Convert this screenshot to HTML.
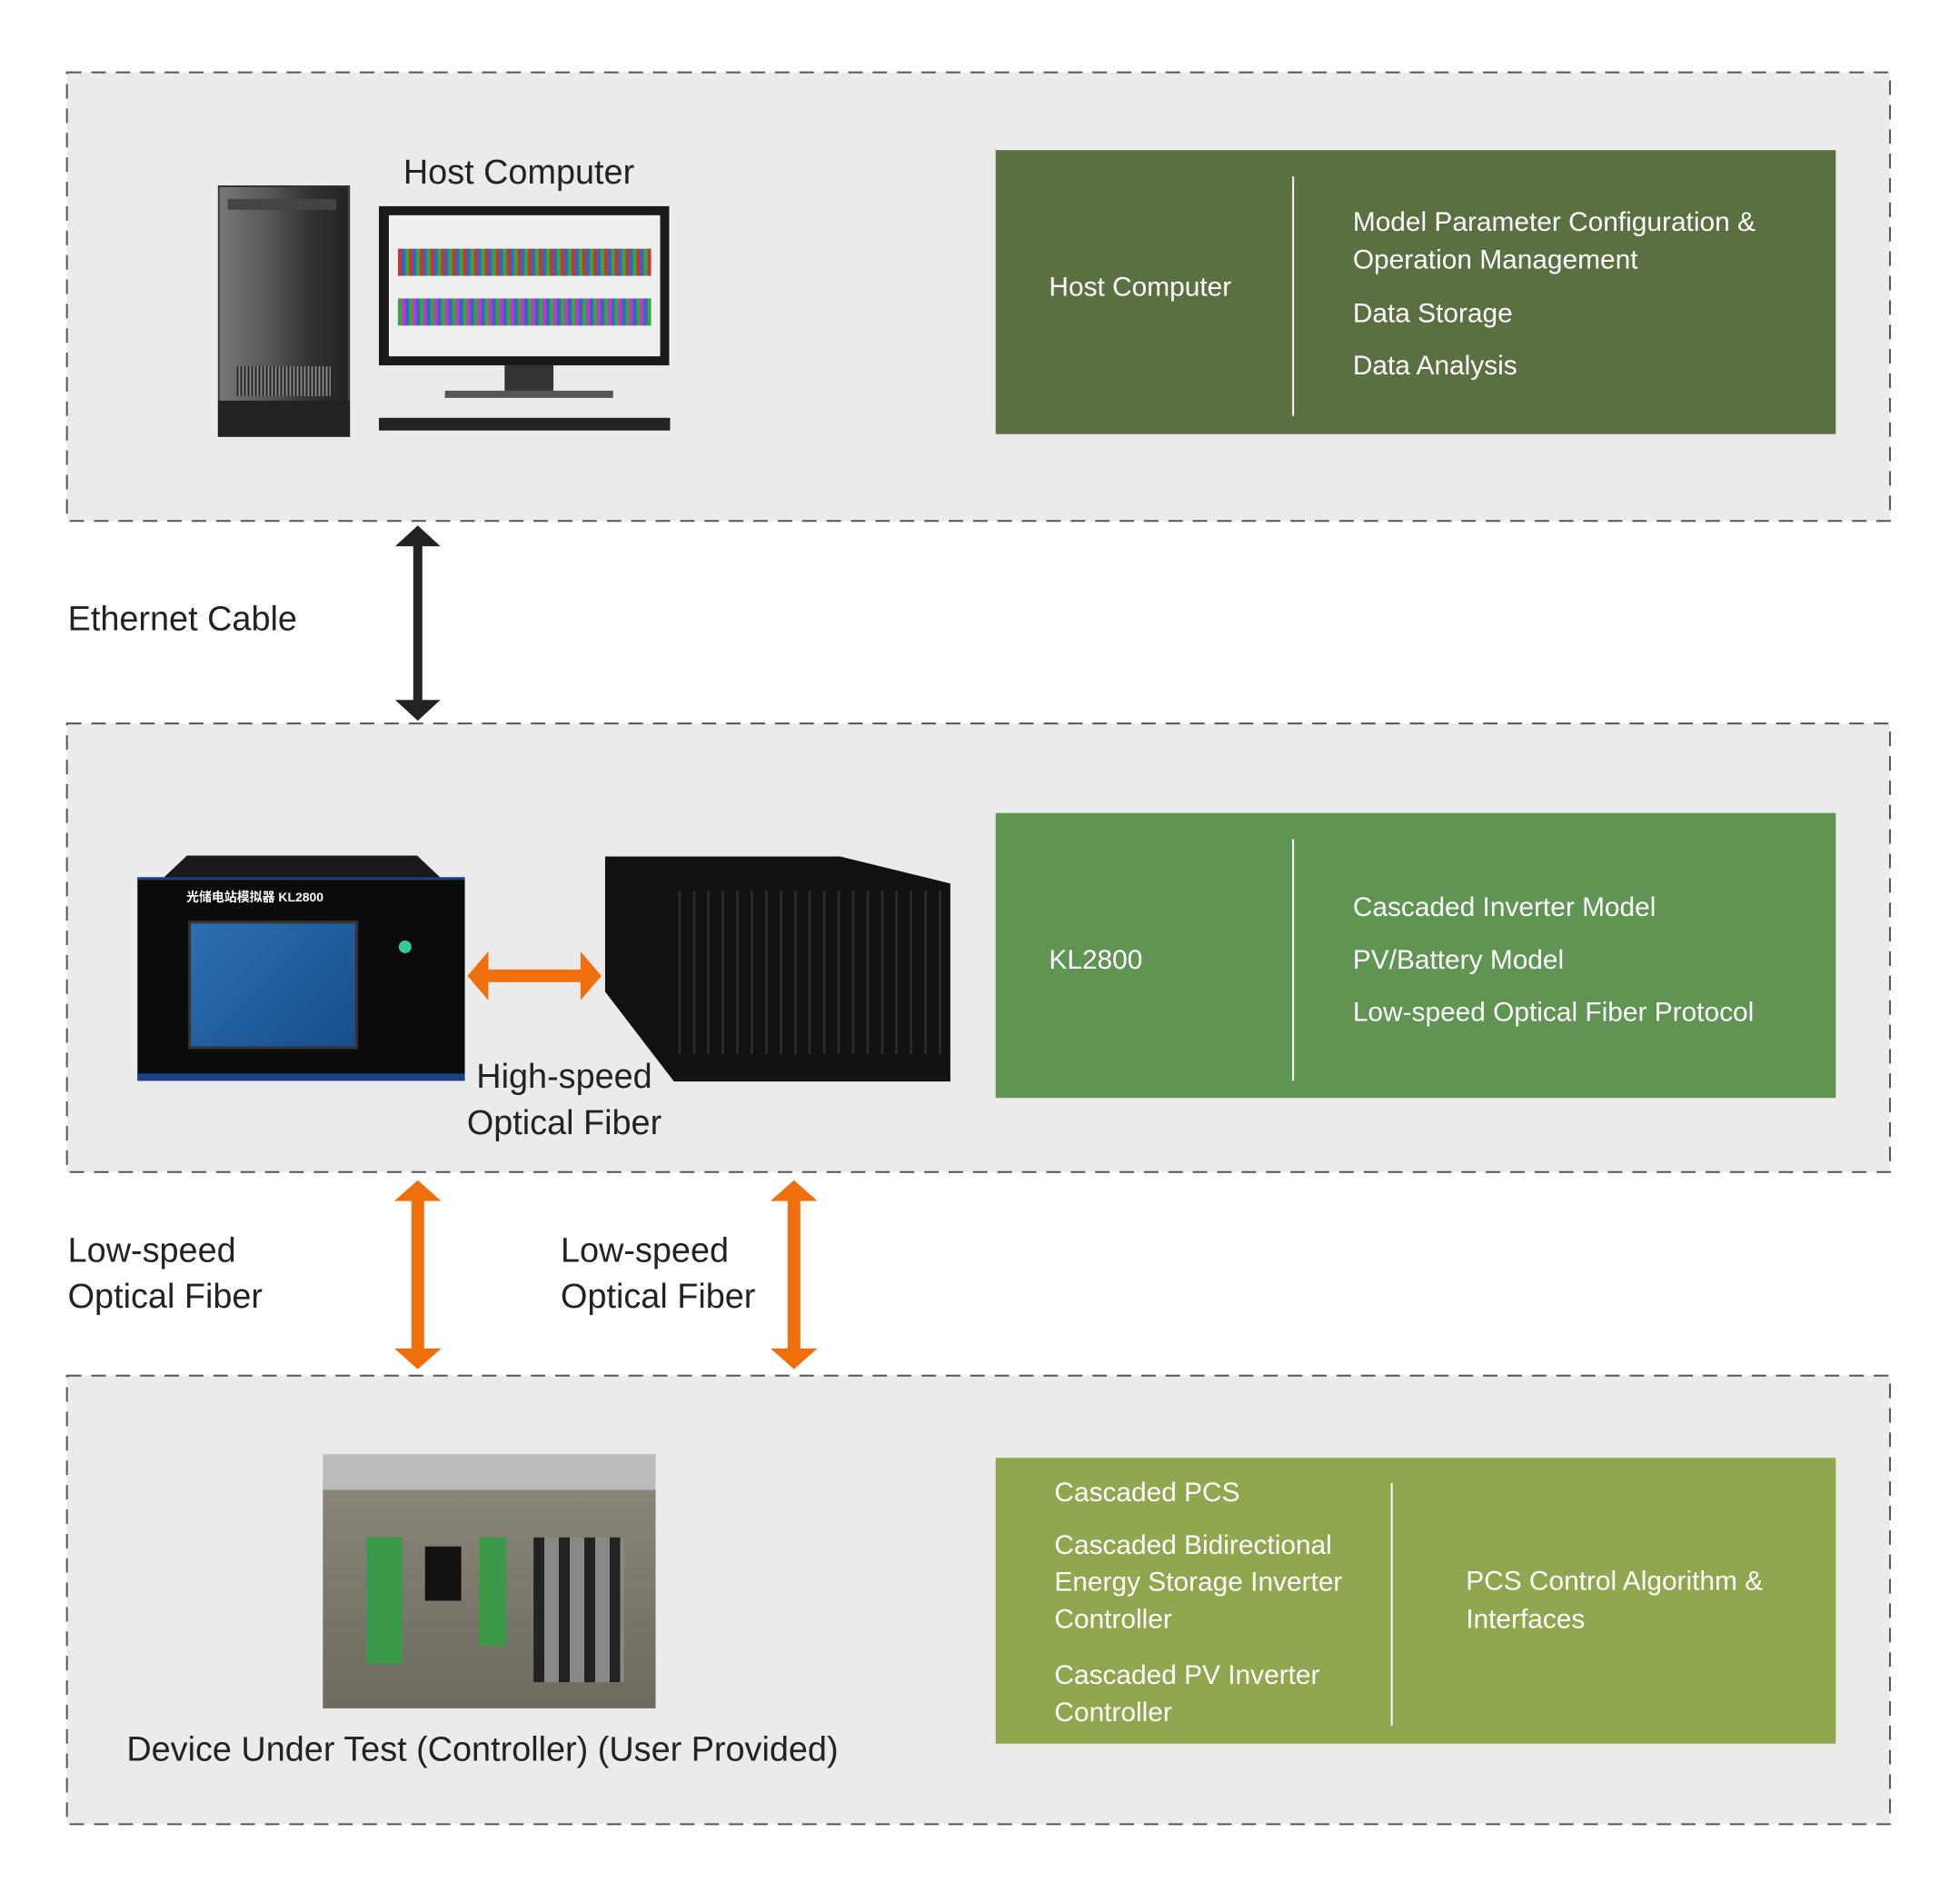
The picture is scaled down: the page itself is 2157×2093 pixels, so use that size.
<!DOCTYPE html>
<html><head><meta charset="utf-8"><style>
*{margin:0;padding:0;box-sizing:border-box}
body{width:2157px;height:2093px;background:#fff;position:relative;overflow:hidden;font-family:"Liberation Sans","Noto Sans CJK SC",sans-serif;color:#222}
#w{position:absolute;left:0;top:0;width:2157px;height:2093px;transform:scale(0.9952);transform-origin:0 0}
.a{position:absolute}
.g{position:absolute;left:1101px;width:929px;color:#fff;font-size:30px}
.g div{position:absolute;white-space:nowrap;line-height:42px}
.div{position:absolute;width:2px;background:#fff}
.lbl{position:absolute;font-size:38px;line-height:51px;white-space:nowrap}
</style></head><body><div id="w">
<svg class="a" style="left:0;top:0" width="2157" height="2093">
 <g fill="#ebebeb" stroke="#555" stroke-width="2" stroke-dasharray="16 11">
 <rect x="74" y="80" width="2016" height="496"/>
 <rect x="74" y="800" width="2016" height="496"/>
 <rect x="74" y="1521" width="2016" height="496"/>
 </g>
</svg>

<!-- green 1 -->
<div class="g" style="top:166px;height:314px;background:#5a7040">
 <div style="left:59px;top:131px">Host Computer</div>
 <div class="div" style="left:328px;top:29px;height:265px"></div>
 <div style="left:395px;top:59px;line-height:42px">Model Parameter Configuration &amp;<br>Operation Management</div>
 <div style="left:395px;top:160px">Data Storage</div>
 <div style="left:395px;top:218px">Data Analysis</div>
</div>
<!-- green 2 -->
<div class="g" style="top:899px;height:315px;background:#5f9453">
 <div style="left:59px;top:142px">KL2800</div>
 <div class="div" style="left:328px;top:29px;height:267px"></div>
 <div style="left:395px;top:84px">Cascaded Inverter Model</div>
 <div style="left:395px;top:142px">PV/Battery Model</div>
 <div style="left:395px;top:200px">Low-speed Optical Fiber Protocol</div>
</div>
<!-- green 3 -->
<div class="g" style="top:1612px;height:316px;background:#8fa84f">
 <div style="left:65px;top:18px">Cascaded PCS</div>
 <div style="left:65px;top:76px;line-height:41px">Cascaded Bidirectional<br>Energy Storage Inverter<br>Controller</div>
 <div style="left:65px;top:220px;line-height:41px">Cascaded PV Inverter<br>Controller</div>
 <div class="div" style="left:437px;top:28px;height:268px"></div>
 <div style="left:520px;top:116px;line-height:42px">PCS Control Algorithm &amp;<br>Interfaces</div>
</div>

<!-- labels -->
<div class="lbl" style="left:446px;top:166px">Host Computer</div>
<div class="lbl" style="left:75px;top:660px">Ethernet Cable</div>
<div class="lbl" style="left:512px;top:1166px;text-align:center;width:224px">High-speed<br>Optical Fiber</div>
<div class="lbl" style="left:75px;top:1358px">Low-speed<br>Optical Fiber</div>
<div class="lbl" style="left:620px;top:1358px">Low-speed<br>Optical Fiber</div>
<div class="lbl" style="left:140px;top:1910px">Device Under Test (Controller) (User Provided)</div>

<!-- arrows -->
<svg class="a" style="left:0;top:0" width="2157" height="2093">
 <polygon points="462,581 487,604 467,604 467,774 487,774 462,797 437,774 457,774 457,604 437,604" fill="#222"/>
 <polygon points="462,1305 488,1328 469,1328 469,1491 488,1491 462,1514 436,1491 455,1491 455,1328 436,1328" fill="#ee6f0c"/>
 <polygon points="878,1305 904,1328 885,1328 885,1491 904,1491 878,1514 852,1491 871,1491 871,1328 852,1328" fill="#ee6f0c"/>
 <polygon points="517,1079 540,1052 540,1072 642,1072 642,1052 665,1079 642,1106 642,1086 540,1086 540,1106" fill="#ee6f0c"/>
</svg>

<!-- tower -->
<div class="a" style="left:241px;top:205px;width:146px;height:278px;background:linear-gradient(90deg,#777,#555 40%,#333 70%,#222);border:2px solid #333"></div>
<div class="a" style="left:241px;top:443px;width:146px;height:40px;background:#222"></div>
<div class="a" style="left:262px;top:405px;width:105px;height:33px;background:repeating-linear-gradient(90deg,#222 0 2px,#888 2px 4px)"></div>
<div class="a" style="left:252px;top:220px;width:120px;height:12px;background:#444"></div>
<!-- monitor -->
<div class="a" style="left:419px;top:228px;width:321px;height:176px;background:#1a1a1a"></div>
<div class="a" style="left:430px;top:238px;width:300px;height:156px;background:#eef0f0"></div>
<div class="a" style="left:440px;top:275px;width:280px;height:30px;background:repeating-linear-gradient(90deg,#c33 0 4px,#36c 4px 8px,#3a3 8px 12px)"></div>
<div class="a" style="left:440px;top:330px;width:280px;height:30px;background:repeating-linear-gradient(90deg,#3a3 0 4px,#c3c 4px 8px,#36c 8px 12px)"></div>
<div class="a" style="left:558px;top:404px;width:54px;height:28px;background:#333"></div>
<div class="a" style="left:492px;top:432px;width:186px;height:8px;background:#555"></div>
<div class="a" style="left:419px;top:462px;width:322px;height:14px;background:#222"></div>

<!-- KL2800 front -->
<div class="a" style="left:175px;top:946px;width:318px;height:30px;background:#1a1a1a;clip-path:polygon(10% 0,90% 0,100% 100%,0 100%)"></div>
<div class="a" style="left:152px;top:970px;width:362px;height:225px;background:#0b0b0b;border-top:3px solid #1c3f8a;border-bottom:8px solid #1c3f8a"></div>
<div class="a" style="left:206px;top:982px;font-size:14px;color:#fff;font-weight:bold">光储电站模拟器 KL2800</div>
<div class="a" style="left:208px;top:1018px;width:188px;height:142px;background:linear-gradient(135deg,#2d6fb0,#174d8a);border:3px solid #333"></div>
<div class="a" style="left:441px;top:1040px;width:14px;height:14px;border-radius:50%;background:#3c9"></div>
<!-- chassis -->
<div class="a" style="left:669px;top:947px;width:382px;height:249px;background:#111;clip-path:polygon(0 0,68% 0,100% 12%,100% 100%,20% 100%,0 60%)"></div>
<div class="a" style="left:750px;top:985px;width:300px;height:180px;background:repeating-linear-gradient(90deg,#2a2a2a 0 3px,#111 3px 16px)"></div>

<!-- DUT -->
<div class="a" style="left:357px;top:1608px;width:368px;height:281px;background:linear-gradient(180deg,#bbb 0 14%,#8a8578 14%,#6d6a60 100%)"></div>
<div class="a" style="left:405px;top:1700px;width:40px;height:140px;background:#3a9a4a"></div>
<div class="a" style="left:530px;top:1700px;width:30px;height:120px;background:#3a9a4a"></div>
<div class="a" style="left:590px;top:1700px;width:100px;height:160px;background:repeating-linear-gradient(90deg,#222 0 12px,#888 12px 28px)"></div>
<div class="a" style="left:470px;top:1710px;width:40px;height:60px;background:#111"></div>
</div></body></html>
